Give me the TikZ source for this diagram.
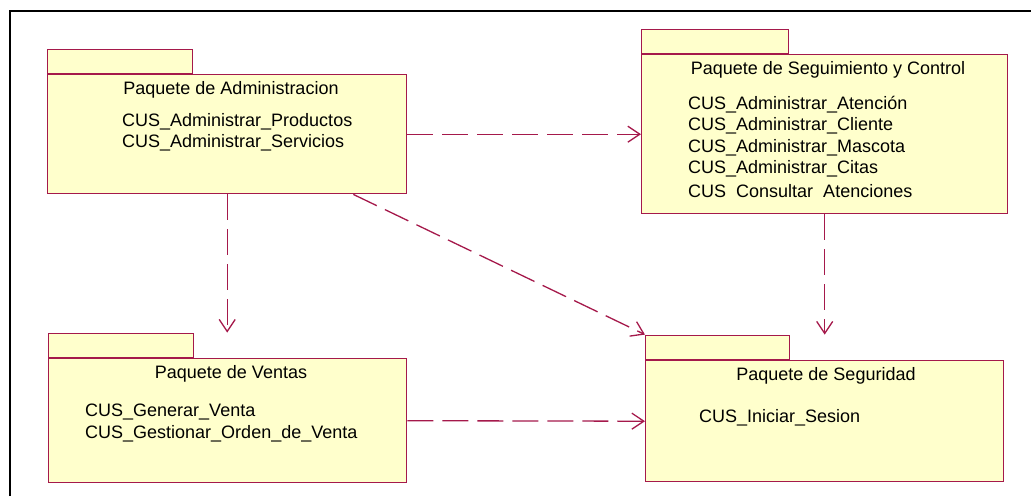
\documentclass[tikz,border=0pt]{standalone}
\usepackage{fontspec}
\setmainfont{Liberation Sans}
\usetikzlibrary{arrows.meta,calc}
\definecolor{pkgline}{RGB}{165,25,75}
\definecolor{pkgfill}{RGB}{255,255,204}
\begin{document}
\begin{tikzpicture}[x=1pt,y=-1pt,
  pkgbody/.style={draw=pkgline, fill=pkgfill, line width=1.4pt, inner sep=0pt, anchor=north west},
  pkgtab/.style={draw=pkgline, fill=pkgfill, line width=1.4pt, inner sep=0pt, anchor=south west, minimum height=24pt},
  ptitle/.style={font=\fontsize{18pt}{21pt}\selectfont, inner sep=0pt, anchor=center, yshift=-2pt},
  pitem/.style={font=\fontsize{18pt}{21pt}\selectfont, inner sep=0pt, anchor=west, yshift=-2pt},
  dep/.style={draw=pkgline, line width=1.3pt, dash pattern=on 26pt off 9pt,
    -{Straight Barb[length=12pt,width=16pt,line width=1.3pt]}}]
\useasboundingbox (0,0) rectangle (1031,496);
\draw[line width=2.2pt] (10,496) -- (10,11) -- (1031,11);

% Paquete de Administracion
\node[pkgtab, minimum width=145pt] (admintab) at (47,74) {};
\node[pkgbody, minimum width=359pt, minimum height=119pt] (admin) at (47,74) {};
\node[ptitle] (admint) at (231,88) {Paquete de Administracion};
\node[pitem] (admin1) at (122,120) {CUS\_Administrar\_Productos};
\node[pitem] (admin2) at (122,141) {CUS\_Administrar\_Servicios};

% Paquete de Seguimiento y Control
\node[pkgtab, minimum width=147pt] (segtab) at (641,54) {};
\node[pkgbody, minimum width=366pt, minimum height=159pt] (seg) at (641,54) {};
\node[ptitle] (segt) at (828,68) {Paquete de Seguimiento y Control};
\node[pitem] (seg1) at (688,103) {CUS\_Administrar\_Atención};
\node[pitem] (seg2) at (688,124) {CUS\_Administrar\_Cliente};
\node[pitem] (seg3) at (688,146) {CUS\_Administrar\_Mascota};
\node[pitem] (seg4) at (688,167) {CUS\_Administrar\_Citas};
\node[pitem] (seg5) at (688,189) {CUS\hspace{0.556em}Consultar\hspace{0.556em}Atenciones};

% Paquete de Ventas
\node[pkgtab, minimum width=145pt] (ventab) at (48,358) {};
\node[pkgbody, minimum width=358pt, minimum height=124pt] (ven) at (48,358) {};
\node[ptitle] (vent) at (231,372) {Paquete de Ventas};
\node[pitem] (ven1) at (85,410) {CUS\_Generar\_Venta};
\node[pitem] (ven2) at (85,432) {CUS\_Gestionar\_Orden\_de\_Venta};

% Paquete de Seguridad
\node[pkgtab, minimum width=144pt] (sectab) at (645,360) {};
\node[pkgbody, minimum width=358pt, minimum height=121pt] (sec) at (645,360) {};
\node[ptitle] (sect) at (826,374) {Paquete de Seguridad};
\node[pitem] (sec1) at (699,416) {CUS\_Iniciar\_Sesion};

% Dependencias
\draw[dep] (admin.east) -- (seg.west);
\draw[dep] (admin.south) -- (admin.south |- ventab.north);
\draw[dep] ($(admin.south west)!0.85!(admin.south east)$) -- (sectab.north west);
\draw[dep] (seg.south) -- (seg.south |- sectab.north);
\draw[dep] (ven.east) -- (sec.west);
\end{tikzpicture}
\end{document}
